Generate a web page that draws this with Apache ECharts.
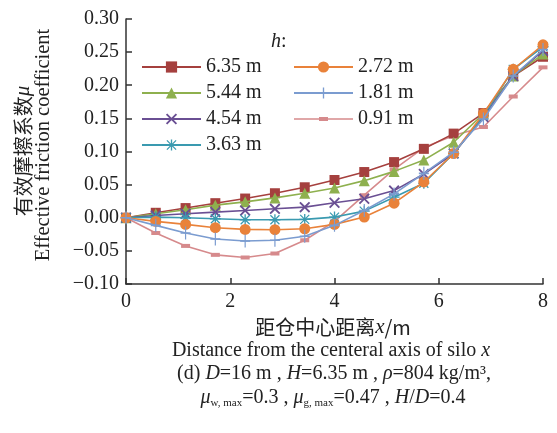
<!DOCTYPE html>
<html><head><meta charset="utf-8">
<script src="https://cdn.jsdelivr.net/npm/echarts@6/dist/echarts.min.js"></script>
<style>html,body{margin:0;padding:0;background:#fff}#c{width:557px;height:433px}</style>
</head><body><div id="c"></div>
<script>
var xs = [0, 0.571, 1.143, 1.714, 2.286, 2.857, 3.429, 4.0, 4.571, 5.143, 5.714, 6.286, 6.857, 7.429, 8.0];
var h635 = [0, 0.0075, 0.0146, 0.022, 0.029, 0.037, 0.046, 0.057, 0.069, 0.084, 0.104, 0.127, 0.158, 0.214, 0.243];
var h544 = [0, 0.006, 0.012, 0.019, 0.024, 0.030, 0.037, 0.045, 0.056, 0.070, 0.087, 0.114, 0.157, 0.214, 0.247];
var h454 = [0, 0.0035, 0.006, 0.0085, 0.011, 0.0135, 0.016, 0.0226, 0.0286, 0.041, 0.066, 0.097, 0.152, 0.214, 0.252];
var h363 = [0, 0.001, 0, -0.0015, -0.003, -0.003, -0.0025, 0.001, 0.010, 0.031, 0.052, 0.097, 0.154, 0.224, 0.258];
var h272 = [0, -0.0055, -0.010, -0.015, -0.0176, -0.018, -0.0166, -0.010, 0.001, 0.022, 0.054, 0.097, 0.157, 0.224, 0.261];
var h181 = [0, -0.0115, -0.023, -0.032, -0.035, -0.034, -0.028, -0.0115, 0.011, 0.036, 0.067, 0.099, 0.149, 0.214, 0.254];
var h091 = [0, -0.023, -0.0425, -0.056, -0.060, -0.054, -0.034, -0.0055, 0.034, 0.073, 0.106, 0.124, 0.137, 0.183, 0.227];
var names = ['6.35 m', '5.44 m', '4.54 m', '3.63 m', '2.72 m', '1.81 m', '0.91 m'];
var yTicks = [-0.10, -0.05, 0.00, 0.05, 0.10, 0.15, 0.20, 0.25, 0.30];
var xTicks = [0, 2, 4, 6, 8];

var serif = '"Liberation Serif","Times New Roman",serif';
var cjk = '"Noto Sans CJK SC",sans-serif';
var X_PATH = 'path://M0,1.2 L1.2,0 L5,3.8 L8.8,0 L10,1.2 L6.2,5 L10,8.8 L8.8,10 L5,6.2 L1.2,10 L0,8.8 L3.8,5 Z';
var PLUS_PATH = 'path://M4.4,0 H5.6 V4.4 H10 V5.6 H5.6 V10 H4.4 V5.6 H0 V4.4 H4.4 Z';
var AST_PATH = 'path://M4.4,0 H5.6 V4.4 H10 V5.6 H5.6 V10 H4.4 V5.6 H0 V4.4 H4.4 Z M0.5,1.3 L1.3,0.5 L9.5,8.7 L8.7,9.5 Z M8.7,0.5 L9.5,1.3 L1.3,9.5 L0.5,8.7 Z';
var DASH_PATH = 'path://M0,0 H9 V4 H0 Z';
var DASH_LEGEND = 'path://M0,1.2 H59 V2.8 H0 Z M25,0 H34 V4 H25 Z';

var cfg = [
  {d: h635, c: '#A5403E', s: 'rect', z: 9, sz: 10},
  {d: h544, c: '#8EB04E', s: 'triangle', z: 10, sz: 11},
  {d: h454, c: '#6A4F93', s: X_PATH, z: 11, sz: 11},
  {d: h363, c: '#3A9AB0', s: AST_PATH, z: 12, sz: 11},
  {d: h272, c: '#E9823A', s: 'circle', z: 13, sz: 11},
  {d: h181, c: '#7B9CD0', s: PLUS_PATH, z: 14, sz: [10, 13]},
  {d: h091, c: '#D68A8C', s: DASH_PATH, z: 8, sz: [9, 4]}
];

var series = cfg.map(function (o, i) {
  return {
    name: names[i], type: 'line', z: o.z,
    data: xs.map(function (x, k) { return [x, o.d[k]]; }),
    symbol: o.s, symbolSize: o.sz, showAllSymbol: true,
    lineStyle: {color: o.c, width: 1.6},
    itemStyle: {color: o.c},
    emphasis: {disabled: true}
  };
});

var chart = echarts.init(document.getElementById('c'), null, {renderer: 'canvas'});
var legendCommon = {orient: 'vertical', itemWidth: 59, itemHeight: 14, itemGap: 6, padding: 0,
  textStyle: {fontFamily: serif, fontSize: 20, color: '#222'}};
chart.setOption({
  animation: false,
  grid: {left: 126, right: 14, top: 19, bottom: 149},
  xAxis: {type: 'value', min: 0, max: 8, interval: 2,
    axisLine: {onZero: false, lineStyle: {color: '#333', width: 1.5}},
    axisTick: {inside: true, length: 6, lineStyle: {color: '#333', width: 1.5}},
    splitLine: {show: false},
    axisLabel: {fontFamily: serif, fontSize: 20, color: '#222', margin: 8,
      formatter: function (v) { return xTicks.indexOf(v) >= 0 ? String(v) : ''; }}},
  yAxis: {type: 'value', min: -0.10, max: 0.30, interval: 0.05,
    axisLine: {show: true, onZero: false, lineStyle: {color: '#333', width: 1.5}},
    axisTick: {show: true, inside: true, length: 6, lineStyle: {color: '#333', width: 1.5}},
    splitLine: {show: false},
    axisLabel: {fontFamily: serif, fontSize: 20, color: '#222', margin: 7,
      formatter: function (v) {
        var t = yTicks.reduce(function (a, b) { return Math.abs(b - v) < Math.abs(a - v) ? b : a; });
        return t.toFixed(2).replace('-', '\u2212');
      }}},
  legend: [
    Object.assign({left: 141, top: 57, data: names.slice(0, 4)}, legendCommon),
    Object.assign({left: 293, top: 57, data: [names[4], names[5],
      {name: names[6], icon: DASH_LEGEND, itemStyle: {color: '#D68A8C'}}]}, legendCommon)
  ],
  series: series,
  graphic: [
    {type: 'text', left: 271, top: 32, style: {text: '{i|h}:', fontFamily: serif, fontSize: 20, fill: '#222',
      rich: {i: {fontFamily: serif, fontStyle: 'italic', fontSize: 20}}}},
    {type: 'text', x: 23, y: 151, rotation: Math.PI / 2, style: {text: '有效摩擦系数{i|μ}', fontFamily: cjk, fontSize: 20,
      fill: '#222', align: 'center', verticalAlign: 'middle',
      rich: {i: {fontFamily: serif, fontStyle: 'italic', fontSize: 21}}}},
    {type: 'text', x: 44, y: 145, rotation: Math.PI / 2, style: {text: 'Effective friction coefficient', fontFamily: serif, fontSize: 20.5,
      fill: '#222', align: 'center', verticalAlign: 'middle'}},
    {type: 'text', x: 333, y: 327, style: {text: '距仓中心距离{i|x}/m', fontFamily: cjk, fontSize: 20,
      fill: '#222', align: 'center', verticalAlign: 'middle',
      rich: {i: {fontFamily: serif, fontStyle: 'italic', fontSize: 21}}}},
    {type: 'text', x: 331, y: 351, style: {text: 'Distance from the centeral axis of silo {i|x}', fontFamily: serif, fontSize: 20,
      fill: '#222', align: 'center', verticalAlign: 'middle',
      rich: {i: {fontFamily: serif, fontStyle: 'italic', fontSize: 20}}}},
    {type: 'text', x: 334, y: 374, style: {text: '(d) {i|D}=16 m , {i|H}=6.35 m , {i|ρ}=804 kg/m³,', fontFamily: serif, fontSize: 20,
      fill: '#222', align: 'center', verticalAlign: 'middle',
      rich: {i: {fontFamily: serif, fontStyle: 'italic', fontSize: 20}}}},
    {type: 'text', x: 333, y: 398, style: {text: '{i|μ}{s|w, max}=0.3 , {i|μ}{s|g, max}=0.47 , {i|H}/{i|D}=0.4', fontFamily: serif, fontSize: 20,
      fill: '#222', align: 'center', verticalAlign: 'middle',
      rich: {i: {fontFamily: serif, fontStyle: 'italic', fontSize: 20},
             s: {fontFamily: serif, fontSize: 11, verticalAlign: 'bottom', padding: [10, 0, 0, 0]}}}}
  ]
});
</script></body></html>
